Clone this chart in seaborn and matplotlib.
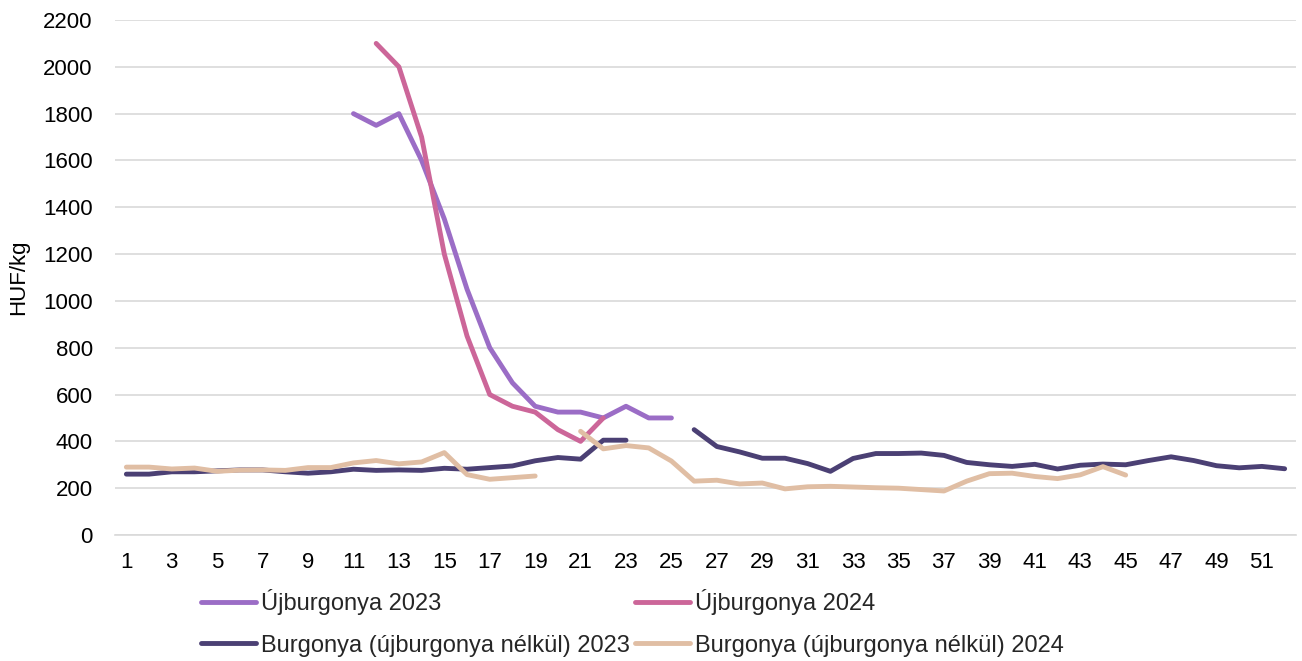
import numpy as np
import pandas as pd
import matplotlib
matplotlib.use("Agg")
import matplotlib.pyplot as plt
import seaborn as sns

weeks = list(range(1, 53))
N = None

uj_2023 = [N]*10 + [1800, 1750, 1800, 1600, 1350, 1050, 800, 650, 550, 525,
                    525, 500, 550, 500, 500] + [N]*27
uj_2024 = [N]*11 + [2100, 2000, 1700, 1200, 850, 600, 550, 525, 450, 400,
                    500] + [N]*30
burg_2023 = [260, 260, 270, 270, 274, 278, 278, 270, 264, 270,
             281, 276, 278, 276, 285, 281, 288, 295, 317, 331,
             324, 405, 405, N, N, 450, 378, 355, 328, 328,
             305, 272, 327, 348, 348, 350, 340, 310, 300, 293,
             302, 282, 298, 303, 300, 318, 334, 318, 296, 287,
             293, 283]
burg_2024 = [290, 290, 282, 286, 272, 277, 278, 276, 288, 288,
             308, 318, 304, 312, 352, 258, 238, 245, 252, N,
             443, 368, 382, 372, 316, 230, 234, 218, 222, 197,
             206, 208, 205, 202, 200, 194, 188, 230, 262, 264,
             250, 241, 257, 292, 256] + [N]*7

series_names = ["Újburgonya 2023", "Újburgonya 2024",
                "Burgonya (újburgonya nélkül) 2023", "Burgonya (újburgonya nélkül) 2024"]
series_values = [uj_2023, uj_2024, burg_2023, burg_2024]
colors = ["#9B6DC6", "#CC6699", "#4B4074", "#E0BEA4"]

rows = []
for name, vals in zip(series_names, series_values):
    seg = 0
    prev = None
    for w, v in zip(weeks, vals):
        if v is None:
            prev = None
            continue
        if prev is None:
            seg += 1
        rows.append({"week": w, "value": v, "series": name, "seg": f"{name}-{seg}"})
        prev = v
df = pd.DataFrame(rows)

sns.set_theme(style="white")
plt.rcParams["font.family"] = ["Liberation Sans", "DejaVu Sans"]

fig = plt.figure(figsize=(13.02, 6.61), dpi=100)
ax = fig.add_axes([115/1302, 1-535/661, (1296-115)/1302, (535-20)/661])

sns.lineplot(data=df, x="week", y="value", hue="series", units="seg",
             estimator=None, hue_order=series_names,
             palette=dict(zip(series_names, colors)), linewidth=3.5,
             solid_capstyle="round", ax=ax, legend=True)

ax.set_xlim(0.5, 52.5)
ax.set_ylim(0, 2200)
ax.set_yticks(np.arange(0, 2201, 200))
ax.set_xticks(weeks[::2])
ax.set_xticklabels([str(w) for w in weeks[::2]])
ax.set_xticks(np.arange(0.5, 53, 1), minor=True)
ax.tick_params(axis="x", which="major", length=0, pad=12, labelsize=16, colors="black")
ax.tick_params(axis="x", which="minor", length=5, width=1.2, color="#d9d9d9")
ax.tick_params(axis="y", length=0, pad=16, labelsize=16, colors="black")
ax.grid(axis="y", color="#d9d9d9", linewidth=1.2)
ax.set_axisbelow(True)
for s in ["left", "right", "top"]:
    ax.spines[s].set_visible(False)
ax.spines["bottom"].set_color("#d9d9d9")
ax.spines["bottom"].set_linewidth(1.2)
ax.set_xlabel("")
ax.set_ylabel("HUF/kg", fontsize=16, color="black", labelpad=10)

handles, labels = ax.get_legend_handles_labels()
ax.get_legend().remove()
order = [0, 2, 1, 3]
leg = fig.legend([handles[i] for i in order], [labels[i] for i in order],
                 loc="upper left", bbox_to_anchor=(201/1302, 1-589/661),
                 ncol=2, frameon=False, fontsize=17, handlelength=2.35,
                 handletextpad=0.18, columnspacing=0.22, labelspacing=0.83,
                 borderaxespad=0, borderpad=0)
for h in leg.get_lines():
    h.set_linewidth(3.5)
    h.set_solid_capstyle("round")

fig.savefig("out.png", dpi=100)
